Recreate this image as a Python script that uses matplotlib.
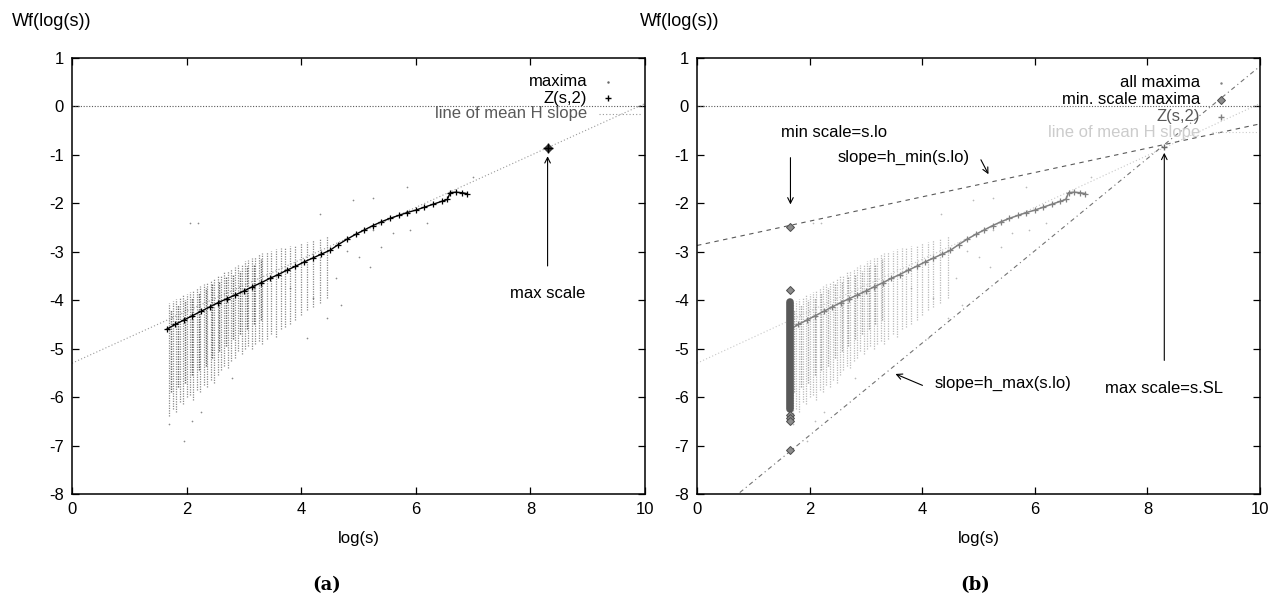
import matplotlib
matplotlib.use("Agg")
import matplotlib.pyplot as plt

plt.rcParams['font.family'] = ['Liberation Sans', 'DejaVu Sans']
plt.rcParams['axes.unicode_minus'] = False

# ---------------- data ----------------
x_ticks = [0, 2, 4, 6, 8, 10]
y_ticks = [-8, -7, -6, -5, -4, -3, -2, -1, 0, 1]

# Z(s,2) curve
z_x = [1.65, 1.80, 1.95, 2.10, 2.25, 2.40, 2.55, 2.70, 2.85, 3.00, 3.15, 3.30,
       3.45, 3.60, 3.75, 3.90, 4.05, 4.20, 4.35, 4.50, 4.65, 4.80, 4.95, 5.10,
       5.25, 5.40, 5.55, 5.70, 5.85, 6.00, 6.15, 6.30, 6.45, 6.55, 6.60, 6.70,
       6.80, 6.90]
z_y = [-4.60, -4.50, -4.41, -4.32, -4.23, -4.14, -4.05, -3.97, -3.89, -3.81, -3.72, -3.64,
       -3.55, -3.47, -3.38, -3.30, -3.21, -3.13, -3.05, -2.97, -2.85, -2.74, -2.64, -2.55,
       -2.46, -2.38, -2.31, -2.25, -2.19, -2.14, -2.08, -2.02, -1.96, -1.92, -1.78, -1.77,
       -1.78, -1.80]

# maxima cloud: vertical columns (x, lowest, highest)
col_x = [1.70, 1.76, 1.82, 1.88, 1.94, 2.00, 2.06, 2.12, 2.18, 2.24, 2.30, 2.36,
         2.42, 2.48, 2.54, 2.60, 2.66, 2.72, 2.78, 2.84, 2.90, 2.96, 3.02, 3.08,
         3.14, 3.20, 3.26, 3.32, 3.40, 3.48, 3.56, 3.64, 3.72, 3.80, 3.90, 4.00,
         4.10, 4.20, 4.32, 4.45]
col_lo = [-6.40, -6.25, -6.30, -6.10, -6.15, -6.00, -5.95, -6.05, -5.85, -5.90, -5.75, -5.80,
          -5.65, -5.70, -5.55, -5.45, -5.35, -5.40, -5.25, -5.20, -5.05, -5.10, -5.00, -4.95,
          -5.00, -4.90, -4.85, -4.90, -4.80, -4.70, -4.75, -4.60, -4.55, -4.50, -4.40, -4.30,
          -4.20, -4.15, -4.05, -3.95]
col_hi = [-4.05, -4.02, -3.98, -3.95, -3.90, -3.88, -3.82, -3.80, -3.74, -3.70, -3.66, -3.62,
          -3.58, -3.55, -3.50, -3.47, -3.42, -3.40, -3.36, -3.32, -3.28, -3.25, -3.20, -3.18,
          -3.12, -3.10, -3.05, -3.02, -3.00, -2.98, -2.95, -2.92, -2.90, -2.88, -2.85, -2.82,
          -2.80, -2.76, -2.72, -2.68]
# darker core of the cloud around the Z(s,2) curve
core_x = [1.73, 1.85, 1.97, 2.09, 2.21, 2.33, 2.45, 2.57, 2.69, 2.81, 2.93, 3.05, 3.17, 3.29]
core_lo = [-5.90, -5.80, -5.70, -5.55, -5.45, -5.35, -5.20, -5.05, -4.95, -4.80, -4.70, -4.60,
           -4.50, -4.40]
core_hi = [-4.20, -4.10, -4.00, -3.95, -3.85, -3.75, -3.65, -3.60, -3.50, -3.45, -3.40, -3.30,
           -3.25, -3.15]
# sparse maxima away from the dense band
sp_x = [1.70, 1.95, 2.10, 2.06, 2.20, 4.33, 4.90, 5.25, 6.20, 5.85, 7.00, 4.80, 5.20,
        4.20, 4.45, 4.10, 3.80, 5.25, 5.60, 5.90, 2.25, 2.80, 4.60, 5.00, 5.40, 4.70]
sp_y = [-6.55, -6.90, -6.50, -2.41, -2.41, -2.21, -1.94, -1.88, -2.40, -1.67, -1.46, -2.98,
        -3.32, -3.95, -4.36, -4.77, -3.74, -2.56, -2.62, -2.56, -6.30, -5.60, -3.55, -3.10,
        -2.90, -4.10]

# max scale point
max_scale_x = 8.30
max_scale_y = -0.85

# mean H slope line (two ends)
meanH_x = [0.0, 10.0]
meanH_y = [-5.30, 0.06]
# slope lines of panel (b)
hmin_x = [0.0, 10.0]
hmin_y = [-2.87, -0.36]
hmax_x = [0.76, 10.0]
hmax_y = [-7.97, 0.83]

# minimum scale maxima (panel b)
ms_x = 1.66
ms_points = [-2.48, -3.78, -6.36, -6.43, -6.50, -7.09]
ms_band = [-6.24, -4.04]

# ---------------- figure ----------------
W, H = 1270, 600
fig = plt.figure(figsize=(W / 100, H / 100), dpi=100)
axA = fig.add_axes([72 / W, 1 - 494 / H, 573 / W, 436 / H])
axB = fig.add_axes([697 / W, 1 - 494 / H, 563 / W, 436 / H])

FS = 12


def style(ax):
    ax.set_xlim(0, 10)
    ax.set_ylim(-8, 1)
    ax.set_xticks(x_ticks)
    ax.set_yticks(y_ticks)
    ax.set_xticklabels([str(t) for t in x_ticks])
    ax.set_yticklabels([str(t) for t in y_ticks])
    ax.tick_params(direction='in', length=5, width=0.9, top=True, right=True,
                   labelsize=FS, pad=6, colors='black')
    for s in ax.spines.values():
        s.set_linewidth(1.1)
        s.set_color('black')
    ax.set_xlabel('log(s)', fontsize=FS, labelpad=10)
    ax.axhline(0, color='0.35', lw=0.8, ls=(0, (1, 1.5)))


def cloud(ax, color, alpha, core_color):
    ax.vlines(col_x, col_lo, col_hi, colors=color, lw=0.9,
              linestyles=[(0, (1, 1.0))], alpha=alpha)
    ax.vlines(core_x, core_lo, core_hi, colors=core_color, lw=1.0,
              linestyles=[(0, (1, 0.8))], alpha=alpha)
    ax.scatter(sp_x, sp_y, s=1.5, color=color, alpha=alpha, lw=0)


# ---- panel (a) ----
style(axA)
cloud(axA, '0.35', 0.7, '0.15')
axA.plot(meanH_x, meanH_y, color='0.6', lw=0.8, ls=(0, (1, 2)))
axA.plot(z_x, z_y, color='black', lw=1.0, marker='+', ms=4, mew=0.9)
axA.plot([max_scale_x], [max_scale_y], marker='D', ms=4, color='0.2')
axA.plot([max_scale_x], [max_scale_y], marker='+', ms=7, color='black')
axA.annotate('', xy=(max_scale_x, -0.97), xytext=(max_scale_x, -3.35),
             arrowprops=dict(arrowstyle='->', color='black', lw=0.8))
axA.text(max_scale_x, -3.86, 'max scale', ha='center', va='center', fontsize=FS)

# legend (a)
tx = 0.899
rows = [0.945, 0.908, 0.872]
axA.text(tx, rows[0], 'maxima', transform=axA.transAxes, ha='right', va='center', fontsize=FS)
axA.text(tx, rows[1], 'Z(s,2)', transform=axA.transAxes, ha='right', va='center', fontsize=FS)
axA.text(tx, rows[2], 'line of mean H slope', transform=axA.transAxes, ha='right',
         va='center', fontsize=FS, color='0.35')
axA.plot([0.935], [rows[0]], transform=axA.transAxes, marker='.', ms=1.5, color='0.4')
axA.plot([0.935], [rows[1]], transform=axA.transAxes, marker='+', ms=4, color='black')
axA.plot([0.92, 0.995], [rows[2], rows[2]], transform=axA.transAxes, color='0.6',
         lw=0.8, ls=(0, (1, 2)))

# ---- panel (b) ----
style(axB)
cloud(axB, '0.55', 0.6, '0.4')
axB.plot(meanH_x, meanH_y, color='0.78', lw=0.8, ls=(0, (1, 2)))
axB.plot(hmin_x, hmin_y, color='0.35', lw=0.8, ls=(0, (4, 4)))
axB.plot(hmax_x, hmax_y, color='0.45', lw=0.8, ls=(0, (4, 3, 1, 3)))
axB.plot(z_x, z_y, color='0.5', lw=1.1, marker='+', ms=4, mew=0.9)
axB.vlines([ms_x], [ms_band[0]], [ms_band[1]], colors='0.35', lw=5.5, capstyle='round')
axB.plot([ms_x] * len(ms_points), ms_points, ls='none', marker='D', ms=4.5,
         mfc='0.55', mec='0.3', mew=0.7)
axB.plot([max_scale_x], [-0.83], marker='+', ms=5, color='0.4')

axB.annotate('', xy=(ms_x, -2.08), xytext=(ms_x, -1.0),
             arrowprops=dict(arrowstyle='->', color='black', lw=0.8))
axB.text(1.5, -0.54, 'min scale=s.lo', ha='left', va='center', fontsize=FS)
axB.annotate('', xy=(5.2, -1.45), xytext=(5.02, -1.05),
             arrowprops=dict(arrowstyle='->', color='black', lw=0.8))
axB.text(2.49, -1.05, 'slope=h_min(s.lo)', ha='left', va='center', fontsize=FS)
axB.annotate('', xy=(3.48, -5.5), xytext=(4.05, -5.78),
             arrowprops=dict(arrowstyle='->', color='black', lw=0.8))
axB.text(4.22, -5.72, 'slope=h_max(s.lo)', ha='left', va='center', fontsize=FS)
axB.annotate('', xy=(max_scale_x, -0.9), xytext=(max_scale_x, -5.3),
             arrowprops=dict(arrowstyle='->', color='black', lw=0.8))
axB.text(max_scale_x, -5.83, 'max scale=s.SL', ha='center', va='center', fontsize=FS)

# legend (b)
tx = 0.893
rows = [0.943, 0.904, 0.865, 0.83]
axB.text(tx, rows[0], 'all maxima', transform=axB.transAxes, ha='right', va='center', fontsize=FS)
axB.text(tx, rows[1], 'min. scale maxima', transform=axB.transAxes, ha='right', va='center', fontsize=FS)
axB.text(tx, rows[2], 'Z(s,2)', transform=axB.transAxes, ha='right', va='center', fontsize=FS,
         color='0.35')
axB.text(tx, rows[3], 'line of mean H slope', transform=axB.transAxes, ha='right',
         va='center', fontsize=FS, color='0.8')
axB.plot([0.931], [rows[0]], transform=axB.transAxes, marker='.', ms=1.5, color='0.5')
axB.plot([0.931], [rows[1]], transform=axB.transAxes, marker='D', ms=4.5,
         mfc='0.55', mec='0.3', mew=0.7)
axB.plot([0.931], [rows[2]], transform=axB.transAxes, marker='+', ms=4, color='0.5')
axB.plot([0.915, 0.995], [rows[3], rows[3]], transform=axB.transAxes, color='0.8',
         lw=0.8, ls=(0, (1, 2)))

# figure texts
fig.text(12 / W, 1 - 22 / H, 'Wf(log(s))', ha='left', va='center', fontsize=13)
fig.text(640 / W, 1 - 22 / H, 'Wf(log(s))', ha='left', va='center', fontsize=13)
fig.text(327 / W, 1 - 585 / H, '(a)', ha='center', va='center', fontsize=13,
         family='DejaVu Serif', weight='bold')
fig.text(975 / W, 1 - 585 / H, '(b)', ha='center', va='center', fontsize=13,
         family='DejaVu Serif', weight='bold')

fig.savefig('out.png', dpi=100)
